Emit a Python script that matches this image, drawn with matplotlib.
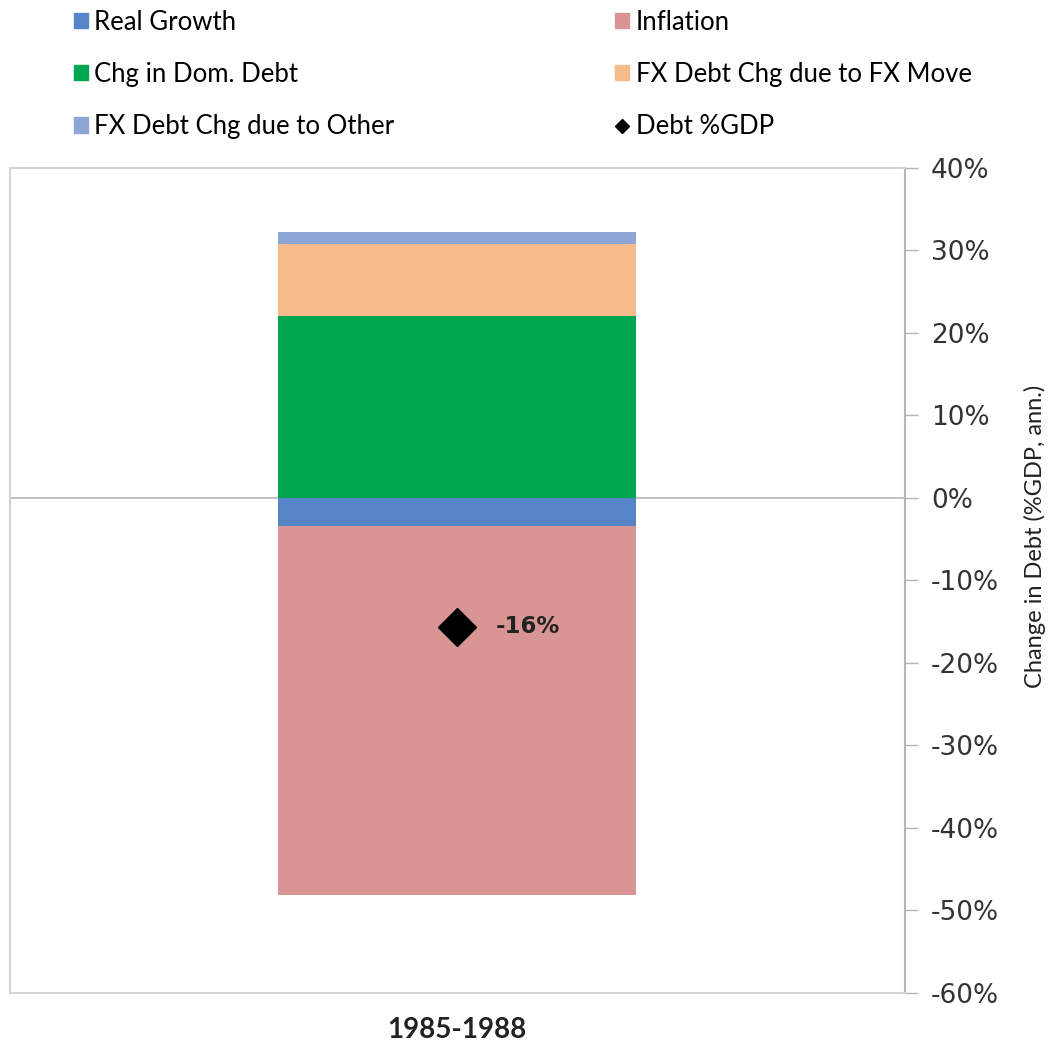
import matplotlib.pyplot as plt
from matplotlib.patches import Patch
from matplotlib.lines import Line2D
from matplotlib.ticker import FuncFormatter

plt.rcParams['font.family'] = ['Lato', 'DejaVu Sans']

# data (% of GDP, annualised)
period = ['1985-1988']
real_growth = [-3.4]
inflation = [-44.7]
chg_dom_debt = [22.0]
fx_move = [8.8]
fx_other = [1.5]
debt_gdp = [-15.6]

colors = {
    'Real Growth': '#5585c6',
    'Inflation': '#d99594',
    'Chg in Dom. Debt': '#00a650',
    'FX Debt Chg due to FX Move': '#f5bb8b',
    'FX Debt Chg due to Other': '#8ea6d6',
}


def main():
    fig = plt.figure(figsize=(10.53, 10.46), dpi=100)
    ax = fig.add_axes([0.0095, 0.0507, 0.8495, 0.7887])

    x = range(len(period))
    w = 0.4
    # positive stack
    ax.bar(x, chg_dom_debt, w, color=colors['Chg in Dom. Debt'])
    ax.bar(x, fx_move, w, bottom=chg_dom_debt, color=colors['FX Debt Chg due to FX Move'])
    pos2 = [a + b for a, b in zip(chg_dom_debt, fx_move)]
    ax.bar(x, fx_other, w, bottom=pos2, color=colors['FX Debt Chg due to Other'])
    # negative stack
    ax.bar(x, real_growth, w, color=colors['Real Growth'])
    ax.bar(x, inflation, w, bottom=real_growth, color=colors['Inflation'])

    ax.plot(x, debt_gdp, 'D', color='black', ms=19)
    for xi, v in zip(x, debt_gdp):
        ax.annotate('%d%%' % round(v), (xi, v), xytext=(28, 0), textcoords='offset points',
                    va='center', ha='left', fontsize=16.5, fontweight='bold', color='#222222',
                    family='DejaVu Sans')

    ax.axhline(0, color='#b5b5b5', lw=1.2, zorder=0)

    ax.set_xlim(-0.5, 0.5)
    ax.set_ylim(-60, 40)
    ax.set_yticks(range(-60, 41, 10))
    ax.yaxis.set_major_formatter(FuncFormatter(lambda v, p: '%d%%' % v))
    ax.yaxis.tick_right()
    ax.yaxis.set_label_position('right')
    ax.tick_params(axis='y', direction='out', length=9, width=1, color='#b5b5b5',
                   labelsize=19, pad=10, labelcolor='#333333')
    for lab in ax.get_yticklabels():
        lab.set_family('DejaVu Sans')
    ax.set_xticks(list(x))
    ax.set_xticklabels(period, fontsize=20, fontweight='bold', color='#222222')
    ax.tick_params(axis='x', length=0, pad=17)
    ax.set_ylabel('Change in Debt (%GDP, ann.)', fontsize=17, color='#222222')
    ax.yaxis.set_label_coords(1.134, 0.553)

    for side in ['left', 'top', 'bottom']:
        ax.spines[side].set_color('#d5d5d5')
        ax.spines[side].set_linewidth(1.5)
    ax.spines['right'].set_color('#b5b5b5')
    ax.spines['right'].set_linewidth(1.5)

    handles = [
        Patch(color=colors['Real Growth'], label='Real Growth'),
        Patch(color=colors['Chg in Dom. Debt'], label='Chg in Dom. Debt'),
        Patch(color=colors['FX Debt Chg due to Other'], label='FX Debt Chg due to Other'),
        Patch(color=colors['Inflation'], label='Inflation'),
        Patch(color=colors['FX Debt Chg due to FX Move'], label='FX Debt Chg due to FX Move'),
        Line2D([], [], marker='D', color='black', ls='', ms=7, label='Debt %GDP'),
    ]
    fig.legend(handles=handles, ncol=2, loc='upper left', bbox_to_anchor=(0.048, 1.013),
               frameon=False, fontsize=18.5, handlelength=0.55, handleheight=0.55,
               handletextpad=0.25, columnspacing=8.6, labelspacing=1.06)

    fig.savefig('out.png', dpi=100)


if __name__ == '__main__':
    main()
